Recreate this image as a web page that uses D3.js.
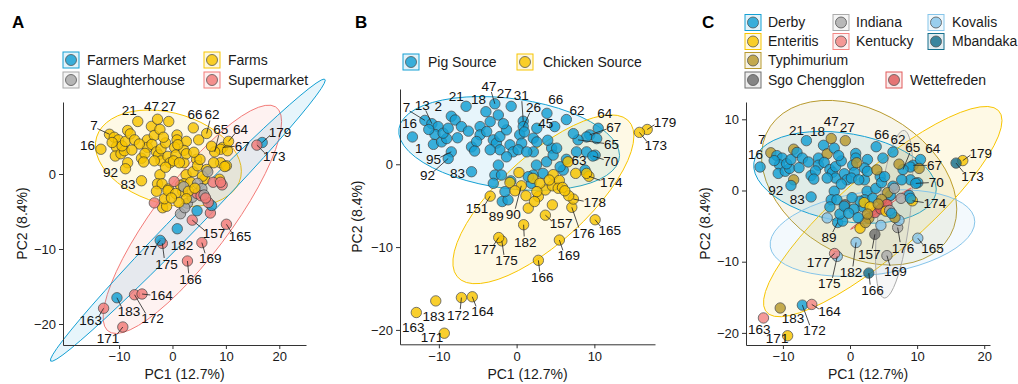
<!DOCTYPE html>
<html>
<head>
<meta charset="utf-8">
<script src="https://cdn.jsdelivr.net/npm/d3@7"></script>
<style>
  body { margin: 0; background: #fff; }
  svg { font-family: "Liberation Sans", Arial, sans-serif; }
</style>
</head>
<body>
<svg id="chart" width="1018" height="384"></svg>
<script>
// ---- data: PCA scores ----
// rows: [isolate label ("" = not labelled), PC1, PC2, sample site, serovar]
// site: F farms, M farmers market, S slaughterhouse, U supermarket
// serovar: D Derby, E Enteritis, T Typhimurium, G Sgo Chengglon, I Indiana,
//          K Kentucky, V Kovalis, B Mbandaka, W Wettefreden
const pigIsolates = [
  ["16", -13.4, 3.3, "F", "D"], ["7", -11.8, 5.3, "F", "T"], ["13", -10.9, 4.9, "F", "D"],
  ["", -10.1, 4.55, "F", "D"], ["", -10.5, 3.6, "F", "D"], ["1", -10.7, 2.4, "F", "D"],
  ["", -9.65, 2.7, "F", "D"], ["", -9.0, 3.1, "F", "D"], ["", -9.45, 3.75, "F", "D"],
  ["", -8.8, 4.35, "F", "D"], ["2", -8.4, 5.8, "F", "T"], ["", -7.9, 5.35, "F", "D"],
  ["", -7.1, 4.55, "F", "D"], ["95", -8.4, 1.5, "F", "T"], ["92", -8.8, 0.7, "F", "D"],
  ["21", -6.5, 7.0, "F", "D"], ["83", -5.8, -0.9, "F", "D"], ["", -5.8, 2.1, "F", "D"],
  ["", -4.7, 4.55, "F", "D"], ["", -4.7, 3.55, "F", "D"], ["", -5.15, 2.75, "F", "D"],
  ["18", -3.95, 6.35, "F", "D"], ["47", -2.8, 7.3, "F", "T"], ["", -3.4, 5.15, "F", "T"],
  ["", -2.35, 5.95, "F", "D"], ["", -3.85, 3.95, "F", "D"], ["", -3.0, 2.95, "F", "D"],
  ["", -2.6, 2.55, "F", "D"], ["", -2.15, 3.35, "F", "D"], ["", -2.15, 1.75, "F", "D"],
  ["27", -0.7, 7.0, "F", "T"], ["", -1.3, 4.15, "F", "D"], ["", -0.85, 2.35, "F", "D"],
  ["", -0.45, 1.5, "F", "D"], ["", -2.35, -0.1, "F", "D"], ["", -2.8, -1.3, "F", "D"],
  ["", -1.95, -1.3, "F", "D"], ["31", 0.85, 5.2, "F", "D"], ["26", 0.85, 4.55, "F", "D"],
  ["", 0.4, 3.55, "F", "D"], ["", 0.65, 2.55, "F", "D"], ["", 0.2, 1.75, "F", "D"],
  ["45", 2.6, 4.35, "F", "D"], ["", 2.15, 3.15, "F", "D"], ["", 2.15, 1.5, "F", "D"],
  ["66", 3.9, 6.15, "F", "D"], ["", 4.9, 4.55, "F", "D"], ["", 4.5, 1.95, "F", "D"],
  ["", 2.55, -0.1, "F", "D"], ["", 3.85, 0.3, "F", "D"], ["", 4.7, 1.1, "F", "D"],
  ["", 2.15, -1.3, "F", "D"], ["", 3.4, -1.1, "F", "D"], ["", -3.0, -2.3, "F", "D"],
  ["", -5.4, 1.6, "F", "D"], ["", -1.3, 0.9, "F", "D"], ["", -3.4, 1.75, "F", "D"],
  ["62", 6.4, 5.4, "F", "D"], ["67", 9.4, 3.55, "F", "D"], ["64", 10.5, 4.35, "F", "D"],
  ["", 9.0, 3.3, "F", "D"], ["65", 7.9, 2.95, "F", "D"], ["", 7.3, 3.7, "F", "T"],
  ["", 10.3, 3.1, "F", "T"], ["", 9.0, 1.5, "F", "D"], ["", 10.1, 1.1, "F", "D"],
  ["", 7.7, 1.5, "F", "D"], ["", 5.15, 1.95, "F", "D"], ["", 6.4, 0.6, "F", "D"],
  ["70", 9.8, 1.0, "F", "D"], ["", 8.8, -0.7, "F", "D"], ["", 6.0, -0.7, "F", "D"],
  ["", 5.6, -0.3, "F", "T"], ["", 1.9, -2.3, "F", "D"], ["", 1.3, 1.5, "F", "D"],
  ["", 2.6, 2.7, "F", "D"], ["89", -1.85, -4.5, "F", "D"], ["", -1.1, -4.3, "F", "D"],
  ["", -1.5, -3.3, "F", "D"], ["", -0.75, -2.0, "F", "G"], ["", 1.5, -1.5, "F", "D"],
  ["", 1.0, 3.9, "F", "T"], ["", 4.0, 2.9, "F", "T"], ["", -6.2, 4.0, "F", "D"],
  ["", -7.6, 3.2, "F", "D"], ["", -11.3, 4.2, "F", "D"], ["", -1.7, 4.9, "F", "D"]
];
const chickenIsolates = [
  ["151", -3.4, -3.85, "U", "V"], ["163", -12.9, -17.9, "U", "K"], ["171", -9.3, -20.4, "U", "E"],
  ["183", -10.4, -16.5, "M", "T"], ["172", -7.1, -16.1, "U", "D"], ["164", -5.7, -16.0, "U", "K"],
  ["166", 2.8, -11.6, "U", "B"], ["169", 5.5, -9.15, "U", "I"], ["165", 10.1, -6.7, "U", "V"],
  ["175", -1.9, -9.25, "U", "V"], ["177", -2.3, -8.85, "M", "K"], ["182", 0.9, -7.3, "M", "V"],
  ["157", 3.7, -6.15, "U", "G"], ["176", 7.1, -5.2, "U", "I"], ["178", 7.3, -4.2, "M", "V"],
  ["179", 16.8, 4.2, "M", "E"], ["173", 15.8, 3.85, "U", "B"], ["174", 9.3, -1.45, "U", "E"],
  ["63", 6.6, 0.3, "S", "I"], ["", 7.6, -1.1, "U", "I"], ["", 4.7, -1.25, "S", "T"],
  ["", 2.1, -1.7, "S", "E"], ["", 2.8, -3.9, "S", "T"], ["", 3.7, -3.1, "S", "W"],
  ["", 4.6, -2.6, "U", "W"], ["", 5.5, -1.95, "S", "W"], ["", 1.5, -5.3, "S", "E"],
  ["", 2.3, -4.5, "S", "T"], ["", 0.3, -1.0, "U", "D"], ["", -0.86, -2.2, "F", "D"],
  ["90", 0.6, -2.6, "F", "D"], ["", 3.0, -2.3, "F", "E"], ["", 2.6, -3.3, "F", "T"],
  ["", 5.35, -2.9, "U", "E"], ["", 4.2, -1.9, "F", "T"], ["", 6.7, -3.8, "U", "T"],
  ["", 5.9, -2.8, "S", "I"], ["", 1.2, -3.8, "F", "D"], ["", 6.2, -3.2, "U", "D"],
  ["", 9.0, -1.1, "U", "D"], ["", -0.2, -3.2, "F", "D"], ["", 4.6, -4.9, "M", "V"]
];

const siteNames = {M: "Farmers Market", F: "Farms", S: "Slaughterhouse", U: "Supermarket"};
const seroNames = {D: "Derby", E: "Enteritis", T: "Typhimurium", G: "Sgo Chengglon", I: "Indiana",
                   K: "Kentucky", V: "Kovalis", B: "Mbandaka", W: "Wettefreden"};

const labelsA = ["7","21","47","27","66","62","67","64","179","16","65","173","92","83","182","177","157","165","175","169","166","183","164","172","163","171"];
const labelsB = ["7","21","47","27","66","62","2","18","31","13","45","67","64","179","26","95","16","1","65","173","63","92","83","70","174","151","90","178","89","176","177","182","157","165","175","169","166","183","164","172","163","171"];
const labelsC = ["7","21","47","27","66","62","18","67","64","179","16","65","173","92","83","70","174","89","176","177","182","157","165","175","169","166","183","164","172","163","171"];

// ---- styling ----
const colour = {
  "Farmers Market": "#14a0d4", "Farms": "#f8c500", "Slaughterhouse": "#a8a8a8", "Supermarket": "#f37b78",
  "Pig Source": "#14a0d4", "Chicken Source": "#f8c500",
  "Derby": "#14a0d4", "Enteritis": "#f8c500", "Typhimurium": "#b89a2e", "Sgo Chengglon": "#6f6f6f",
  "Indiana": "#ababab", "Kentucky": "#f38683", "Kovalis": "#86c5ea", "Mbandaka": "#166f8c", "Wettefreden": "#e15b5b"
};

const toPoint = hostName => r => ({id: r[0], x: r[1], y: r[2], A: siteNames[r[3]], B: hostName, C: seroNames[r[4]]});
const points = pigIsolates.map(toPoint("Pig Source")).concat(chickenIsolates.map(toPoint("Chicken Source")));

const panels = [
  {key: "A", letterX: 12, x0: 63, x1: 306, y0: 102, y1: 345, xd: [-20.5, 25.0], yd: [9.6, -22.8],
   xt: [-10, 0, 10, 20], yt: [-20, -10, 0], ytitleX: 22, labels: labelsA,
   ellipses: ["Farms", "Supermarket", "Farmers Market"],
   legend: [["Farmers Market", 71, 60, 87], ["Farms", 212, 60, 228],
            ["Slaughterhouse", 71, 80, 87], ["Supermarket", 212, 80, 228]]},
  {key: "B", letterX: 355, x0: 400, x1: 655, y0: 89, y1: 344.3, xd: [-15.0, 17.8], yd: [9.09, -21.74],
   xt: [-10, 0, 10], yt: [-20, -10, 0], ytitleX: 357, labels: labelsB,
   ellipses: ["Pig Source", "Chicken Source"],
   legend: [["Pig Source", 411, 62, 428], ["Chicken Source", 525, 62, 543]]},
  {key: "C", letterX: 702, x0: 746, x1: 990, y0: 102, y1: 345, xd: [-15.5, 20.86], yd: [12.43, -21.7],
   xt: [-10, 0, 10, 20], yt: [-20, -10, 0, 10], ytitleX: 705, labels: labelsC,
   ellipses: ["Typhimurium", "Derby", "Enteritis", "Kovalis", "Indiana", "Wettefreden"],
   legend: [["Derby", 753, 22.5, 768], ["Indiana", 841, 22.5, 856], ["Kovalis", 936, 22.5, 952],
            ["Enteritis", 753, 41.5, 768], ["Kentucky", 841, 41.5, 856], ["Mbandaka", 936, 41.5, 952],
            ["Typhimurium", 753, 60.5, 768],
            ["Sgo Chengglon", 753, 80, 768], ["Wettefreden", 894, 80, 910]]}
];

// multivariate t scatter estimate (like MASS::cov.trob), as used by ggplot's stat_ellipse
function covTrob(pts, nu = 5, maxit = 25, tol = 0.01) {
  const n = pts.length;
  let loc = [d3.mean(pts, p => p[0]), d3.mean(pts, p => p[1])];
  let w = pts.map(() => 1);
  let X = [];
  for (let it = 0; it < maxit; it++) {
    const w0 = w;
    X = pts.map(p => [p[0] - loc[0], p[1] - loc[1]]);
    const sw = d3.sum(w);
    let a = 0, b = 0, c = 0;
    X.forEach((d, i) => { a += w[i] * d[0] * d[0] / sw; b += w[i] * d[0] * d[1] / sw; c += w[i] * d[1] * d[1] / sw; });
    const det = a * c - b * b;
    const Q = X.map(d => (c * d[0] * d[0] - 2 * b * d[0] * d[1] + a * d[1] * d[1]) / det);
    w = Q.map(q => (nu + 2) / (nu + q));
    const sw2 = d3.sum(w);
    loc = [d3.sum(pts, (p, i) => w[i] * p[0]) / sw2, d3.sum(pts, (p, i) => w[i] * p[1]) / sw2];
    if (w.every((v, i) => Math.abs(v - w0[i]) < tol)) break;
  }
  let a = 0, b = 0, c = 0;
  X.forEach((d, i) => { a += w[i] * d[0] * d[0]; b += w[i] * d[0] * d[1]; c += w[i] * d[1] * d[1]; });
  return {loc, a: a / n, b: b / n, c: c / n};
}

function ellipsePath(pts) {
  const {loc, a, b, c} = covTrob(pts);
  const dfd = pts.length - 1;
  const fq = (dfd / 2) * (Math.pow(0.05, -2 / dfd) - 1); // qf(0.95, 2, dfd)
  const radius = Math.sqrt(2 * fq);
  const r11 = Math.sqrt(a), r12 = b / r11, r22 = Math.sqrt(Math.max(c - r12 * r12, 1e-9));
  return d3.range(0, 52).map(k => {
    const t = k * 2 * Math.PI / 51;
    return [loc[0] + radius * Math.cos(t) * r11, loc[1] + radius * (Math.cos(t) * r12 + Math.sin(t) * r22)];
  });
}

const svg = d3.select("#chart");

panels.forEach(p => {
  const g = svg.append("g");
  const x = d3.scaleLinear().domain(p.xd).range([p.x0, p.x1]);
  const y = d3.scaleLinear().domain(p.yd).range([p.y0, p.y1]);

  // ellipses
  const line = d3.line().x(d => x(d[0])).y(d => y(d[1])).curve(d3.curveLinearClosed);
  p.ellipses.forEach(grp => {
    const pts = points.filter(d => d[p.key] === grp).map(d => [d.x, d.y]);
    if (pts.length < 3) return;
    g.append("path")
      .attr("d", line(ellipsePath(pts)))
      .attr("fill", colour[grp]).attr("fill-opacity", 0.1)
      .attr("stroke", colour[grp]).attr("stroke-width", 1);
  });

  // points
  g.append("g").selectAll("circle")
    .data(points)
    .enter()
    .append("circle")
    .attr("cx", d => x(d.x))
    .attr("cy", d => y(d.y))
    .attr("r", 5.2)
    .attr("fill", d => colour[d[p.key]])
    .attr("stroke", "#333")
    .attr("stroke-width", 0.8)
    .attr("opacity", 0.82);

  // axes
  const xAxis = g.append("g")
    .attr("transform", "translate(0," + p.y1 + ")")
    .call(d3.axisBottom(x).tickValues(p.xt).tickSize(4).tickPadding(3).tickSizeOuter(0));
  const yAxis = g.append("g")
    .attr("transform", "translate(" + p.x0 + ",0)")
    .call(d3.axisLeft(y).tickValues(p.yt).tickSize(4).tickPadding(3).tickSizeOuter(0));
  [xAxis, yAxis].forEach(a => {
    a.selectAll("path, line").attr("stroke", "#333").attr("stroke-width", 1);
    a.selectAll("text").attr("font-size", 13).attr("fill", "#1a1a1a").attr("font-family", null);
  });

  g.append("text")
    .attr("x", (p.x0 + p.x1) / 2).attr("y", 379)
    .attr("text-anchor", "middle").attr("font-size", 14).attr("fill", "#1a1a1a")
    .text("PC1 (12.7%)");
  g.append("text")
    .attr("transform", "translate(" + p.ytitleX + "," + ((p.y0 + p.y1) / 2) + ") rotate(-90)")
    .attr("text-anchor", "middle").attr("dy", "0.35em").attr("font-size", 14).attr("fill", "#1a1a1a")
    .text("PC2 (8.4%)");
  g.append("text")
    .attr("x", p.letterX).attr("y", 28)
    .attr("font-size", 17).attr("font-weight", "bold")
    .text(p.key);

  // legend
  p.legend.forEach(([name, kx, ky, tx]) => {
    g.append("rect")
      .attr("x", kx - 8).attr("y", ky - 8).attr("width", 16).attr("height", 16)
      .attr("fill", colour[name]).attr("fill-opacity", 0.12)
      .attr("stroke", colour[name]).attr("stroke-width", 1);
    g.append("circle")
      .attr("cx", kx).attr("cy", ky).attr("r", 5.5)
      .attr("fill", colour[name]).attr("stroke", "#333").attr("stroke-width", 0.8).attr("opacity", 0.82);
    g.append("text")
      .attr("x", tx).attr("y", ky).attr("dy", "0.35em")
      .attr("font-size", 14).attr("fill", "#1a1a1a")
      .text(name);
  });

  // point labels, pushed apart with a force layout (stand-in for ggrepel)
  const P = points.map(d => ({id: d.id, px: x(d.x), py: y(d.y)}));
  const cx = d3.mean(P, d => d.px), cy = d3.mean(P, d => d.py);
  const labLayer = g.append("g");
  const fixedNodes = P.map(d => ({fx: d.px, fy: d.py, x: d.px, y: d.py, r: 5.5}));
  const labs = [];
  p.labels.forEach(id => {
    const d = P.find(q => q.id === id);
    if (!d) return;
    const t = labLayer.append("text")
      .attr("font-size", 13.5).attr("fill", "#111")
      .attr("text-anchor", "middle").attr("dy", "0.35em")
      .text(id);
    const w = t.node().getComputedTextLength();
    let ux = d.px - cx, uy = d.py - cy;
    const L = Math.hypot(ux, uy) || 1;
    ux /= L; uy /= L;
    const ax = d.px + ux * 12, ay = d.py + uy * 11;
    labs.push({t, d, w, ax, ay, x: ax, y: ay, r: Math.max(w / 2, 6.5) + 1, lab: true});
  });
  const keepInside = () => labs.forEach(l => {
    l.x = Math.max(p.x0 + l.w / 2 + 2, Math.min(p.x1 + 15, l.x));
    l.y = Math.max(p.y0 - 10, Math.min(p.y1 - 7, l.y));
  });
  const sim = d3.forceSimulation(fixedNodes.concat(labs))
    .force("collide", d3.forceCollide(n => n.r).strength(0.8).iterations(3))
    .force("x", d3.forceX(n => n.lab ? n.ax : n.fx).strength(n => n.lab ? 0.05 : 0))
    .force("y", d3.forceY(n => n.lab ? n.ay : n.fy).strength(n => n.lab ? 0.05 : 0))
    .force("inside", keepInside)
    .stop();
  for (let i = 0; i < 300; i++) { sim.tick(); keepInside(); }
  labs.forEach(l => {
    const dist = Math.hypot(l.x - l.d.px, l.y - l.d.py);
    if (dist > 17) {
      labLayer.insert("line", "text")
        .attr("x1", l.d.px).attr("y1", l.d.py)
        .attr("x2", l.x + (l.d.px - l.x) * (l.w / 2) / dist)
        .attr("y2", l.y + (l.d.py - l.y) * 6 / dist)
        .attr("stroke", "#222").attr("stroke-width", 0.8);
    }
    l.t.attr("x", l.x).attr("y", l.y);
  });
});
</script>
</body>
</html>
